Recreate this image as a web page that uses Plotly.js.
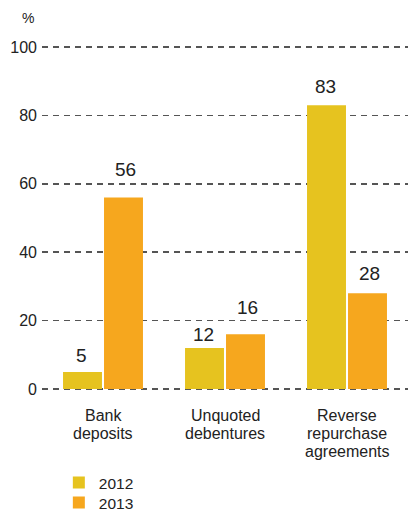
<!DOCTYPE html>
<html><head><meta charset="utf-8">
<script src="https://cdn.plot.ly/plotly-3.0.1.min.js"></script>
<style>html,body{margin:0;padding:0;background:#fff;}#chart{width:408px;height:511px;}</style>
</head><body><div id="chart"></div>
<script>
const categories = ["Bank<br>deposits", "Unquoted<br>debentures", "Reverse<br>repurchase<br>agreements"];
const series2012 = [5, 12, 83];
const series2013 = [56, 16, 28];
const seriesNames = ["2012", "2013"];
const yTicks = [0, 20, 40, 60, 80, 100];
const colors = ["#E6C31F", "#F6A71E"];

// style: extra lift (px) of value labels above bars
const lift2012 = [4, 1, 6];
const lift2013 = [15, 14, 7];

const FAM = "Liberation Sans, Arial, sans-serif";
const INK = "#222";

const traces = [
  {type: "bar", x: categories, y: series2012, name: seriesNames[0], marker: {color: colors[0]}, legend: "legend"},
  {type: "bar", x: categories, y: series2013, name: seriesNames[1], marker: {color: colors[1]}, legend: "legend2"}
];

const annotations = [];
[[series2012, lift2012, -22], [series2013, lift2013, 22]].forEach(([vals, lift, dx]) => {
  vals.forEach((v, i) => annotations.push({
    xref: "x", yref: "y", x: categories[i], y: v, xshift: dx, yshift: lift[i],
    xanchor: "center", yanchor: "bottom", text: String(v), showarrow: false,
    font: {family: FAM, size: 19, color: INK}
  }));
});
categories.forEach((c) => {
  c.split("<br>").forEach((line, j) => annotations.push({
    xref: "x", yref: "paper", x: c, y: 0, yshift: -25 - j * 18,
    xanchor: "center", yanchor: "middle", text: line, showarrow: false,
    font: {family: FAM, size: 16, color: INK}
  }));
});
annotations.push({text: "%", xref: "paper", yref: "paper", x: -0.038, y: 1.08, xanchor: "center", yanchor: "middle",
                  showarrow: false, font: {family: FAM, size: 14, color: INK}});

const legendBase = {xref: "paper", yref: "paper", xanchor: "left", yanchor: "middle", bgcolor: "rgba(0,0,0,0)",
                    font: {family: FAM, size: 15.5, color: INK}};
const layout = {
  width: 408, height: 511,
  margin: {l: 42, r: 0, t: 46, b: 121, autoexpand: false},
  paper_bgcolor: "#fff", plot_bgcolor: "#fff",
  font: {family: FAM, size: 15, color: INK},
  barmode: "group", bargap: 0.328, bargroupgap: 0.05,
  showlegend: true,
  legend: Object.assign({x: 0.046, y: -0.27}, legendBase),
  legend2: Object.assign({x: 0.046, y: -0.3285}, legendBase),
  xaxis: {type: "category", showgrid: false, zeroline: false, showline: false, ticks: "",
          showticklabels: false, fixedrange: true},
  yaxis: {range: [-0.3, 100.3], tickvals: yTicks, ticktext: yTicks.map(String), showgrid: true,
          gridcolor: "#555", gridwidth: 1.6, griddash: "6px,5px", zeroline: false, showline: false,
          ticks: "", ticklabelstandoff: 4, tickfont: {family: FAM, size: 16, color: INK}},
  annotations: annotations
};
Plotly.newPlot("chart", traces, layout, {displayModeBar: false, staticPlot: true});
</script></body></html>
